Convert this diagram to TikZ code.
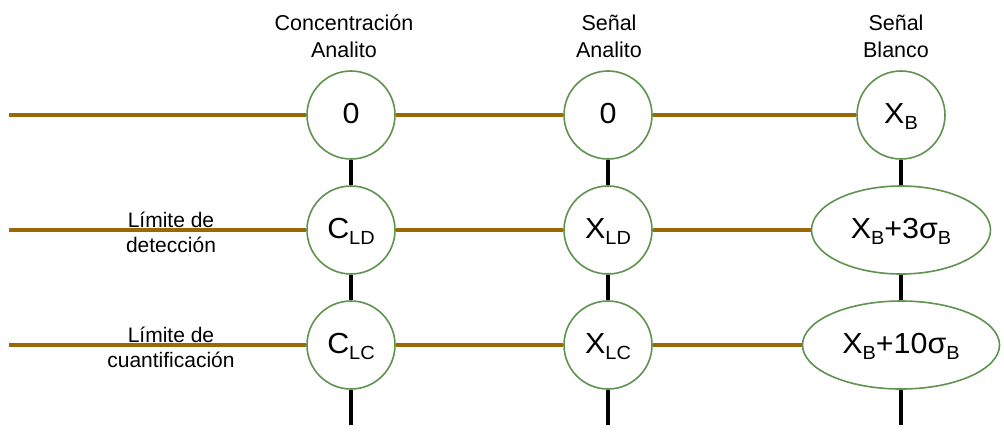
\documentclass[tikz,border=0pt]{standalone}
\usepackage{fontspec}
\setmainfont{Liberation Sans}
\newfontfamily\nodefont[FakeStretch=1.05]{Liberation Sans}
\usetikzlibrary{shapes.geometric}
\definecolor{brownline}{RGB}{154,104,8}
\definecolor{greenline}{RGB}{96,146,80}
\newcommand\sbx[1]{\raisebox{-6.5pt}{\fontsize{19}{19}\selectfont #1}}
\begin{document}
\begin{tikzpicture}[x=1pt,y=-1pt,
  nodetext/.style={font=\nodefont\fontsize{29}{29}\selectfont,text height=16pt,text depth=0pt,inner sep=0pt},
  circ/.style={circle,draw=greenline,line width=1.6pt,minimum size=88pt,nodetext},
  ell/.style={ellipse,draw=greenline,line width=1.6pt,minimum height=88pt,nodetext},
  hline/.style={draw=brownline,line width=3.3pt},
  vline/.style={draw=black,line width=3.5pt},
  head/.style={align=center,font=\fontsize{21.5}{27}\selectfont,anchor=base},
  side/.style={align=center,font=\fontsize{21}{25}\selectfont,anchor=base}]
\useasboundingbox (0,0) rectangle (1004,432);
\fill[white] (0,0) rectangle (1004,432);

% headers
\node[head] (h1) at (344,57) {Concentración\\Analito};
\node[head] (h2) at (609,57) {Señal\\Analito};
\node[head] (h3) at (896,57) {Señal\\Blanco};

% side labels
\node[side] (sl1) at (171,252) {Límite de\\detección};
\node[side] (sl2) at (171,367) {Límite de\\cuantificación};

% nodes
\node[circ] (c1) at (351,115) {0};
\node[circ] (s1) at (608,115) {0};
\node[circ] (b1) at (901,115) {X\sbx{B}};
\node[circ] (c2) at (351,230) {C\sbx{LD}};
\node[circ] (s2) at (608,230) {X\sbx{LD}};
\node[ell,minimum width=179pt] (b2) at (901,230) {X\sbx{B}+3σ\sbx{B}};
\node[circ] (c3) at (351,345) {C\sbx{LC}};
\node[circ] (s3) at (608,345) {X\sbx{LC}};
\node[ell,minimum width=197pt] (b3) at (901,345) {X\sbx{B}+10σ\sbx{B}};

\coordinate (l1) at (9,115);
\coordinate (l2) at (9,230);
\coordinate (l3) at (9,345);
\coordinate (t1) at (351,425);
\coordinate (t2) at (608,425);
\coordinate (t3) at (901,425);

% horizontal lines
\draw[hline] (l1) -- (c1) (c1) -- (s1) (s1) -- (b1);
\draw[hline] (l2) -- (c2) (c2) -- (s2) (s2) -- (b2);
\draw[hline] (l3) -- (c3) (c3) -- (s3) (s3) -- (b3);

% vertical lines
\draw[vline] (c1) -- (c2) (c2) -- (c3) (c3) -- (t1);
\draw[vline] (s1) -- (s2) (s2) -- (s3) (s3) -- (t2);
\draw[vline] (b1) -- (b2) (b2) -- (b3) (b3) -- (t3);
\end{tikzpicture}
\end{document}
